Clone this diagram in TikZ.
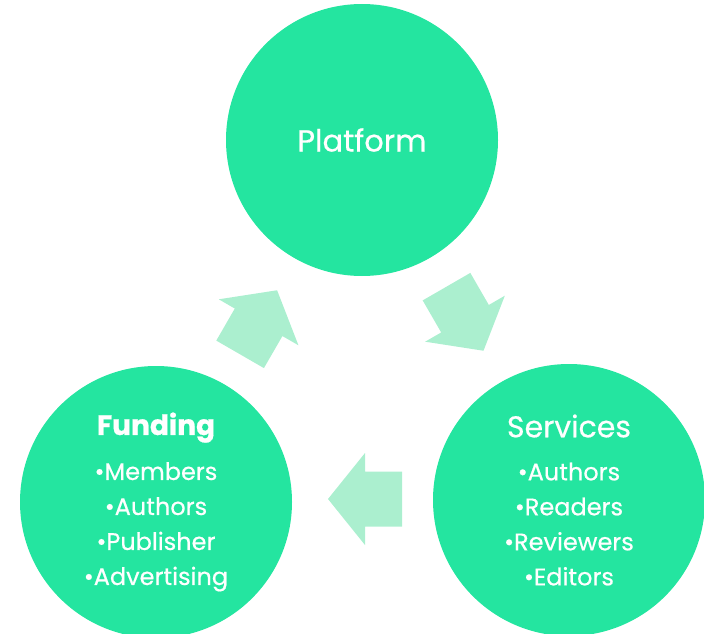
\documentclass[tikz,border=0pt]{standalone}
\usepackage{fontspec}
\setmainfont{Poppins}[UprightFeatures={FakeBold=0.5}, BoldFeatures={FakeBold=0.8}]
\usepackage{tikz}
\usetikzlibrary{calc}
\definecolor{bubblegreen}{RGB}{36,229,160}
\definecolor{arrowgreen}{RGB}{171,239,207}
\tikzset{
  bubble/.style={circle, fill=bubblegreen, minimum size=272pt, inner sep=0pt,
    text=white, align=center},
  blockarrow/.pic={
    \fill[arrowgreen] (-37,-27.5) -- (0,-27.5) -- (0,-46) -- (37,0)
      -- (0,46) -- (0,27.5) -- (-37,27.5) -- cycle;
  }
}
\begin{document}
\begin{tikzpicture}[x=1pt, y=-1pt]
      \useasboundingbox (0,0) rectangle (704,634);
      \node[bubble, font=\fontsize{30.5}{34}\selectfont] (plat) at (362,140) {Platform};
      \node[bubble, font=\fontsize{24}{35}\selectfont] (fund) at (156,502)
        {{\fontsize{28}{34}\selectfont\bfseries Funding}\\[10pt]
         •Members\\ •Authors\\ •Publisher\\ •Advertising};
      \node[bubble, font=\fontsize{24}{35}\selectfont] (serv) at (569,500)
        {{\fontsize{30}{34}\selectfont Services}\\[8pt]
         •Authors\\ •Readers\\ •Reviewers\\ •Editors};
      \pic[rotate=60] (up) at (258.6,322.3) {blockarrow};
      \pic[rotate=-60] (down) at (465,318.7) {blockarrow};
      \pic[rotate=180] (back) at (365,499) {blockarrow};
    \end{tikzpicture}
\end{document}
